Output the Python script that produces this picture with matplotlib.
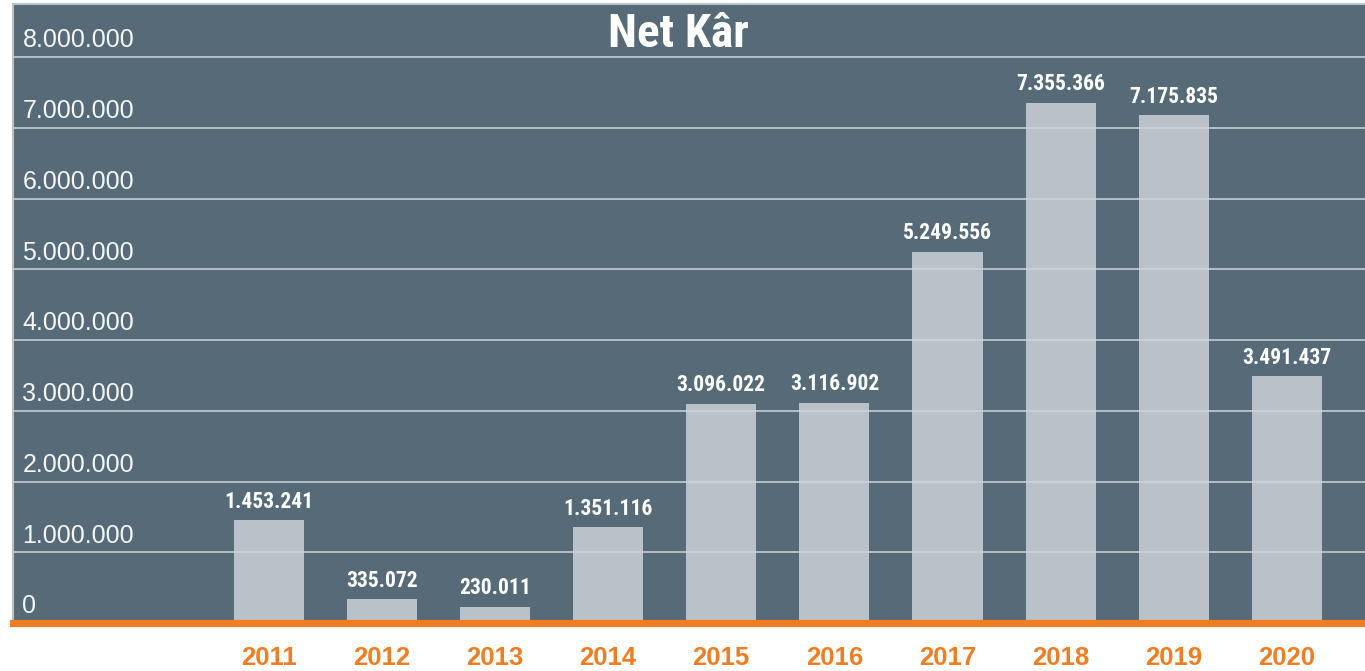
import os
import matplotlib.pyplot as plt
from matplotlib import font_manager

years = ['2011', '2012', '2013', '2014', '2015', '2016', '2017', '2018', '2019', '2020']
net_kar = [1453241, 335072, 230011, 1351116, 3096022, 3116902, 5249556, 7355366, 7175835, 3491437]
value_labels = ['1.453.241', '335.072', '230.011', '1.351.116', '3.096.022',
                '3.116.902', '5.249.556', '7.355.366', '7.175.835', '3.491.437']
grid_values = [0, 1000000, 2000000, 3000000, 4000000, 5000000, 6000000, 7000000, 8000000]
grid_labels = ['0', '1.000.000', '2.000.000', '3.000.000', '4.000.000',
               '5.000.000', '6.000.000', '7.000.000', '8.000.000']

bg = '#566b77'
bar_col = '#bac2c9'
orange = '#f07d22'

plt.rcParams['font.family'] = ['Liberation Sans', 'DejaVu Sans']

# look for a condensed bold face, like the one in the original graphic
files = [f.fname for f in font_manager.fontManager.ttflist]
cond_file = None
for key in ['LiberationSansNarrow-Bold.', 'RobotoCondensed-Bold', 'DejaVuSansCondensed-Bold.']:
    hits = [p for p in files if key in os.path.basename(p)]
    if hits:
        cond_file = hits[0]
        break


def bold_font(size):
    if cond_file:
        return font_manager.FontProperties(fname=cond_file, size=size)
    return font_manager.FontProperties(family='Liberation Sans', weight='bold', size=size)


fig = plt.figure(figsize=(13.65, 6.71), dpi=100)
ax = fig.add_axes([13 / 1365, (671 - 623) / 671, 1 - 13 / 1365, (623 - 4) / 671])
ax.set_facecolor(bg)

x = list(range(len(years)))
ax.bar(x, net_kar, width=0.62, color=bar_col, zorder=1)

ax.set_xlim(-2.26, 9.69)
ax.set_ylim(0, 8.75e6)

for v, lab in zip(grid_values, grid_labels):
    if v > 0:
        ax.axhline(v, color='#cdd5db', lw=1.3, alpha=0.85, zorder=3)
    ax.annotate(lab, xy=(0.007, v), xycoords=('axes fraction', 'data'),
                xytext=(0, 7), textcoords='offset points', va='baseline', ha='left',
                fontsize=18, color='#f4f6f7', zorder=4)

for xi, v, lab in zip(x, net_kar, value_labels):
    ax.annotate(lab, xy=(xi, v), xytext=(0, 9), textcoords='offset points',
                ha='center', va='baseline', fontproperties=bold_font(15.5 if cond_file else 15),
                color='white', zorder=4)

for xi, yr in zip(x, years):
    ax.annotate(yr, xy=(xi, 0), xycoords=('data', 'axes fraction'),
                xytext=(0, -30), textcoords='offset points', ha='center', va='baseline',
                fontsize=18.5, fontweight='bold', color=orange, annotation_clip=False)

ax.text(0.492, 0.952, 'Net Kâr', transform=ax.transAxes, ha='center', va='center',
        fontproperties=bold_font(34 if cond_file else 31), color='white')

ax.set_xticks([])
ax.set_yticks([])
ax.spines['right'].set_visible(False)
ax.spines['bottom'].set_color(orange)
ax.spines['bottom'].set_linewidth(5.2)
ax.spines['bottom'].set_zorder(5)
for s in ['left', 'top']:
    ax.spines[s].set_color('#b9c1c7')
    ax.spines[s].set_linewidth(1.5)

fig.savefig('out.png', dpi=100, facecolor='white')
